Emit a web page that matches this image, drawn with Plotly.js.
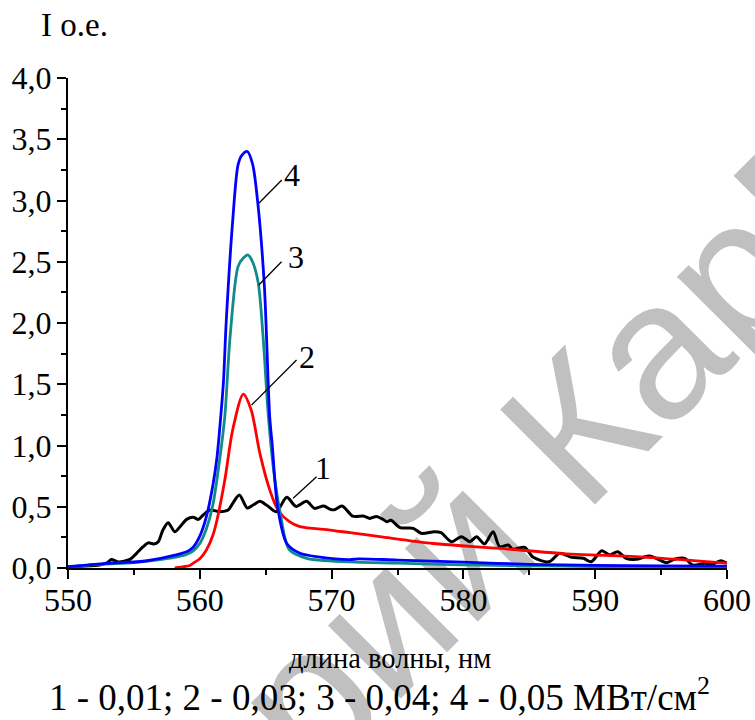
<!DOCTYPE html>
<html>
<head>
<meta charset="utf-8">
<script src="https://cdn.plot.ly/plotly-3.0.1.min.js"></script>
<style>
  html, body { margin: 0; padding: 0; background: #ffffff; }
  #wrap { position: relative; width: 755px; height: 720px; overflow: hidden; }
  #wm { position: absolute; left: 467.4px; top: 399.2px; transform-origin: 0 0; transform: rotate(-45deg);
        font-family: "Liberation Sans", Arial, sans-serif; font-size: 195px; line-height: 195px;
        color: #c0c0c0; white-space: nowrap; z-index: 0; }
  #wm .pre { position: absolute; right: 100%; top: 0; }
  #chart { position: absolute; left: 0; top: 0; width: 755px; height: 720px; z-index: 1; }
  #chart .xtick text, #chart .ytick text { font-family: "Liberation Serif", "Times New Roman", serif !important; }
</style>
</head>
<body>
<div id="wrap">
  <div id="wm"><span class="pre">Репозиторий&nbsp;</span>КарГУ</div>
  <div id="chart"></div>
</div>
<script>
// ---- data ----
const x1 = [550,551,552,552.4,553.0,553.3,553.8,554.7,555.2,555.7,556.1,556.5,556.85,557.2,557.6,558.1,558.5,559.0,559.5,559.9,560.26,560.8,561.5,562.15,562.5,563.0,563.6,564.05,564.55,565.06,565.8,566.6,567.3,568.1,568.7,569.4,569.9,570.2,570.8,571.6,572.4,572.9,573.4,573.9,574.2,574.5,575.2,576.2,576.8,577.8,578.3,579.1,579.85,580.5,581.0,581.6,582.25,582.75,583.4,583.75,584.65,585.3,586.5,587.3,588.2,589.1,589.7,590.5,591.1,591.7,592.35,593.1,594.1,594.9,595.4,596.0,596.8,597.4,598.3,598.9,599.55,600];
const y1 = [0.01,0.015,0.02,0.025,0.045,0.07,0.05,0.07,0.12,0.174,0.205,0.196,0.215,0.31,0.37,0.296,0.337,0.397,0.414,0.397,0.433,0.473,0.46,0.473,0.528,0.596,0.49,0.514,0.544,0.514,0.46,0.577,0.503,0.544,0.487,0.506,0.479,0.475,0.506,0.424,0.424,0.405,0.42,0.397,0.378,0.39,0.33,0.324,0.283,0.296,0.288,0.215,0.256,0.215,0.256,0.196,0.296,0.174,0.188,0.153,0.169,0.087,0.051,0.12,0.087,0.079,0.051,0.141,0.106,0.133,0.079,0.071,0.098,0.065,0.043,0.071,0.079,0.024,0.038,0.033,0.06,0.038];

const x2 = [558.1,558.7,559.25,559.5,560.0,560.5,561.0,561.3,561.9,562.5,563.3,563.9,564.55,565.3,565.95,566.8,567.6,569.9,571.4,573.65,577.7,582.75,587.3,593.9,600];
const y2 = [0.0,0.01,0.02,0.04,0.075,0.147,0.27,0.39,0.72,1.13,1.42,1.29,0.94,0.64,0.47,0.378,0.337,0.31,0.288,0.256,0.2,0.16,0.12,0.087,0.04];

const x3 = [550,552.4,555,556.7,558,558.9,559.5,560.0,560.5,561.0,561.5,561.9,562.3,562.9,563.3,563.67,564.0,564.43,564.8,565.2,565.6,566.1,566.8,568.1,571.4,575,580,585,590,595,600];
const y3 = [0.008,0.03,0.045,0.065,0.085,0.106,0.14,0.2,0.32,0.52,0.88,1.24,1.89,2.46,2.53,2.555,2.5,2.33,1.89,1.24,0.8,0.45,0.147,0.079,0.05,0.04,0.025,0.018,0.012,0.01,0.008];

const x4 = [550,552,554,555.7,557.7,559.0,559.5,560.0,560.5,561.0,561.3,561.6,561.8,562.0,562.5,562.9,563.2,563.6,564.0,564.4,564.9,565.3,565.5,565.9,566.6,567.6,569,571.4,572,575,580,585,590,595,600];
const y4 = [0.01,0.03,0.045,0.055,0.095,0.133,0.17,0.26,0.42,0.68,0.9,1.25,1.53,2.0,2.84,3.29,3.37,3.40,3.30,2.98,2.30,1.24,1.0,0.5,0.2,0.12,0.09,0.068,0.075,0.065,0.048,0.03,0.022,0.018,0.015];

const yTickVals = [0,0.5,1,1.5,2,2.5,3,3.5,4];
const xTickVals = [550,560,570,580,590,600];

const curveLabels = ["1","2","3","4"];
const labelPos = [[569.36,0.814],[568.12,1.725],[567.29,2.54],[566.96,3.208]];
const leaderLines = [[568.86,0.745,567.08,0.569],[567.34,1.698,563.93,1.33],[566.2,2.50,564.48,2.31],[566.22,3.167,564.48,2.977]];

const xTitle = "длина волны, нм";
const yTitle = "I о.е.";
const caption = "1 - 0,01; 2 - 0,03; 3 - 0,04; 4 - 0,05 МВт/см<sup>2</sup>";

// ---- layout geometry ----
const L = 68, R = 727, T = 78, B = 568, W = 755, H = 720;
const px = v => (v - L) / (R - L);
const py = v => (B - v) / (B - T);
const serif = "Liberation Serif";

const traces = [
  {x: x1, y: y1, mode: 'lines', line: {color: '#000000', width: 3, shape: 'spline', smoothing: 0.8}},
  {x: x2, y: y2, mode: 'lines', line: {color: '#ff0000', width: 2.8, shape: 'spline', smoothing: 0.8}},
  {x: x3, y: y3, mode: 'lines', line: {color: '#108a8a', width: 2.8, shape: 'spline', smoothing: 0.8}},
  {x: x4, y: y4, mode: 'lines', line: {color: '#0000ff', width: 2.8, shape: 'spline', smoothing: 0.8}}
];

const annotations = curveLabels.map((t, i) => ({
  text: t, x: labelPos[i][0], y: labelPos[i][1], xref: 'x', yref: 'y', showarrow: false,
  xanchor: 'center', yanchor: 'middle', font: {family: serif, size: 32, color: '#000'}
}));
annotations.push({text: yTitle, xref: 'paper', yref: 'paper', x: px(74), y: py(25), showarrow: false,
  xanchor: 'center', yanchor: 'middle', font: {family: serif, size: 33, color: '#000'}});
annotations.push({text: xTitle, xref: 'paper', yref: 'paper', x: px(390), y: py(658), showarrow: false,
  xanchor: 'center', yanchor: 'middle', font: {family: serif, size: 28.5, color: '#000'}});
annotations.push({text: caption, xref: 'paper', yref: 'paper', x: px(379), y: py(694), showarrow: false,
  xanchor: 'center', yanchor: 'middle', font: {family: serif, size: 37, color: '#000'}});

const shapes = leaderLines.map(s => ({
  type: 'line', xref: 'x', yref: 'y', x0: s[0], y0: s[1], x1: s[2], y1: s[3],
  line: {color: '#000', width: 1.3}
}));

const layout = {
  width: W, height: H,
  margin: {l: L, r: W - R, t: T, b: H - B, pad: 0},
  paper_bgcolor: 'rgba(0,0,0,0)', plot_bgcolor: 'rgba(0,0,0,0)',
  showlegend: false,
  separators: ',.',
  font: {family: serif, size: 32, color: '#000'},
  xaxis: {
    range: [550, 600], tickvals: xTickVals, ticks: 'outside', ticklen: 9, tickwidth: 2, tickcolor: '#000',
    showline: true, linewidth: 2, linecolor: '#000', showgrid: false, zeroline: false,
    tickfont: {family: serif, size: 32, color: '#000'}, ticklabelstandoff: -6,
    minor: {dtick: 5, tick0: 550, ticks: 'outside', ticklen: 5, tickwidth: 2, tickcolor: '#000', showgrid: false}
  },
  yaxis: {
    range: [0, 4], tickvals: yTickVals, tickformat: '.1f', ticks: 'outside', ticklen: 9, tickwidth: 2, tickcolor: '#000',
    showline: true, linewidth: 2, linecolor: '#000', showgrid: false, zeroline: false,
    tickfont: {family: serif, size: 32, color: '#000'}, ticklabelstandoff: -1,
    minor: {dtick: 0.25, tick0: 0, ticks: 'outside', ticklen: 5, tickwidth: 2, tickcolor: '#000', showgrid: false}
  },
  annotations: annotations,
  shapes: shapes
};

Plotly.newPlot('chart', traces, layout, {staticPlot: true, displayModeBar: false});
</script>
</body>
</html>
